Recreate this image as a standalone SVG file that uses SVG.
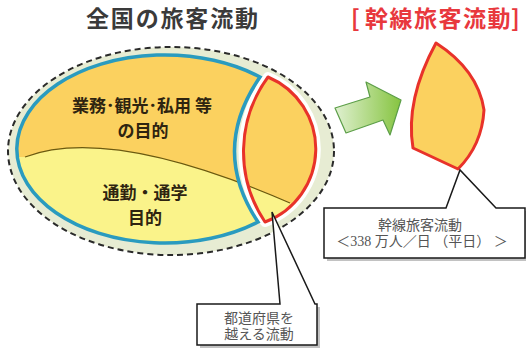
<svg xmlns="http://www.w3.org/2000/svg" width="526" height="349" viewBox="0 0 526 349">
<style>
.title{font-family:"Noto Sans CJK JP","Noto Sans",sans-serif;font-size:23px;font-weight:bold;fill:#3a3a3a}
.red{fill:#e8383d}
.lbl{font-family:"Noto Sans CJK JP",sans-serif;font-size:17px;font-weight:bold;fill:#2e2410;text-anchor:middle}
.call{font-family:"Liberation Serif","Noto Sans CJK JP",serif;font-size:14px;fill:#555;text-anchor:middle}
.box{fill:#fff;stroke:#1a1a1a;stroke-width:1.5}
.shadow{fill:#999;stroke:none;opacity:.6}
.lens{stroke:#e8322a;stroke-width:3;fill:none;stroke-linejoin:round}
.orange{fill:#fbd15f}
.yellow{fill:#faf38a}
</style>
<defs>
<clipPath id="blueClip"><path d="M260,77 A148,94 0 1,0 258,222 Q210,150 260,77 Z"/></clipPath>
<clipPath id="lensClip"><path d="M268,77 A78,78 0 0,1 265,222 A126,126 0 0,1 268,77 Z"/></clipPath>
<path id="upper" d="M0,157 L25,157 Q110,125 290,203 L340,230 L340,0 L0,0 Z"/>
<linearGradient id="grn" x1="0" y1="0" x2="1" y2="0">
<stop offset="0" stop-color="#dff0d0"/>
<stop offset="1" stop-color="#86c440"/>
</linearGradient>
</defs>

<text class="title" x="86" y="27" textLength="172">全国の旅客流動</text>
<text class="title red" y="27"><tspan x="351">[</tspan><tspan x="365" letter-spacing="1.5">幹線旅客流動</tspan><tspan x="511">]</tspan></text>

<g id="outer">
<ellipse cx="171" cy="151" rx="163" ry="104" fill="#e7ecd3" stroke="#2a2a2a" stroke-width="2" stroke-dasharray="6,4"/>
</g>

<g id="lens-halo">
<path d="M268,77 A78,78 0 0,1 265,222 A126,126 0 0,1 268,77 Z" fill="#fff" stroke="#fff" stroke-width="10" stroke-linejoin="round"/>
</g>

<g id="all-flow">
<g clip-path="url(#blueClip)">
<rect x="0" y="40" width="340" height="220" class="yellow"/>
<use href="#upper" class="orange"/>
<path d="M25,157 Q110,125 290,203" fill="none" stroke="#6b5a10" stroke-width="1.2"/>
</g>
<path d="M260,77 A148,94 0 1,0 258,222 Q210,150 260,77 Z" fill="none" stroke="#2a9bbf" stroke-width="3.5" stroke-linejoin="miter"/>
<text class="lbl" x="142" y="112">業務･観光･私用 等</text>
<text class="lbl" x="143" y="137">の目的</text>
<text class="lbl" x="145" y="199">通勤・通学</text>
<text class="lbl" x="145" y="224">目的</text>
</g>

<g id="cross-flow">
<g clip-path="url(#lensClip)">
<rect x="230" y="70" width="100" height="160" class="yellow"/>
<use href="#upper" class="orange"/>
<path d="M25,157 Q110,125 290,203" fill="none" stroke="#6b5a10" stroke-width="1.2"/>
</g>
<path class="lens" d="M268,77 A78,78 0 0,1 265,222 A126,126 0 0,1 268,77 Z"/>
</g>

<g id="trunk-flow">
<path d="M436,43 Q478,70 484,110 Q482,145 458,169 L413,148 Q405,100 436,43 Z" class="orange" stroke="#e8322a" stroke-width="3" stroke-linejoin="round"/>
</g>

<g id="connectors">
<polygon points="335,108 370,97 366,82 401,100 390,135 383,120 346,133" fill="url(#grn)" stroke="#5c9e48" stroke-width="1.2" stroke-linejoin="round"/>
</g>

<g id="callout-trunk">
<polygon class="shadow" points="327,211 528,211 528,261 327,261"/>
<polygon class="box" points="324,208 446,208 460,170 496,208 525,208 525,258 324,258"/>
<text class="call" x="420" y="230">幹線旅客流動</text>
<text class="call" x="422" y="246">＜338 万人／日 （平日） ＞</text>
</g>

<g id="callout-cross">
<polygon class="shadow" points="200,307 320,307 320,348 200,348"/>
<polygon class="box" points="197,304 280,304 272,212 315,304 317,304 317,345 197,345"/>
<text class="call" x="259" y="323">都道府県を</text>
<text class="call" x="259" y="339">越える流動</text>
</g>
</svg>
